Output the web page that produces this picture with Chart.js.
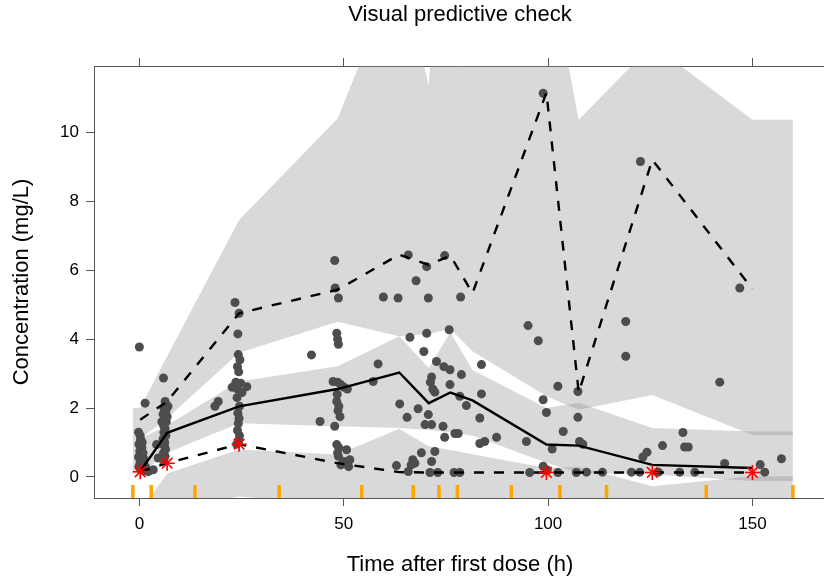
<!DOCTYPE html>
<html>
<head>
<meta charset="utf-8">
<script src="https://cdn.jsdelivr.net/npm/chart.js@4.4.1/dist/chart.umd.min.js"></script>
<style>
  html, body { margin: 0; padding: 0; background: #fff; overflow: hidden; }
  #wrap { width: 860px; height: 582px; }
</style>
</head>
<body>
<div id="wrap"><canvas id="vpc" width="860" height="582"></canvas></div>
<script>
// Observed concentrations
const obsTime = [
  0.0, 1.4, -0.2, 0.3, -0.1, 0.6, 0.1, 0.4, -0.2, 0.5, 0.2, 0.8, -0.1, 0.6, 0.3, 1.2, 2.2, 3.4, 1.0, 0.9, 1.5, 0.2, 0.7,
  5.9, 6.3, 7.0, 6.0, 6.5, 5.8, 6.2, 6.6, 5.9, 6.3, 6.0, 6.5, 5.8, 6.2, 6.1, 6.4, 5.9, 6.3, 6.0, 4.2, 4.6, 6.8, 5.5,
  18.5, 19.3, 23.4, 24.4, 24.1, 24.2, 24.6, 24.0, 24.3, 23.6, 24.8, 22.7, 26.3, 24.0, 25.1, 23.9, 24.5, 24.1, 24.4, 24.2, 24.0, 24.5, 24.3, 23.8,
  42.1, 44.2,
  47.8, 47.9, 48.7, 48.3, 48.5, 48.7, 47.4, 48.5, 49.3, 50.1, 50.9, 48.3, 48.8, 48.6, 49.1, 47.8, 48.3, 48.8, 50.7, 48.5, 48.7, 51.5, 49.3, 51.2, 48.4, 50.0,
  57.2, 58.4, 59.7, 63.3, 65.8, 67.7, 70.3, 70.7, 74.7, 78.6, 66.2, 70.3, 69.6, 72.7, 75.8, 71.5, 71.2, 72.3, 71.8, 76.0, 74.5, 78.8, 78.4, 76.0, 80.0,
  83.7, 83.7, 83.3, 63.7, 68.2, 65.5, 70.7, 69.9, 71.5, 74.3, 77.2, 78.0, 74.7, 62.9, 69.0, 66.9, 67.4, 66.5, 71.5, 72.3, 65.8, 71.1, 78.4, 77.0, 73.0,
  84.5, 83.3, 87.4,
  94.7, 95.1, 97.6, 98.8, 99.6, 102.4, 103.7, 101.0, 107.3, 107.3, 107.7, 108.5, 95.5, 98.8, 99.8, 102.4, 106.9, 109.4, 98.8,
  119.0, 119.0, 122.6, 142.0, 146.9, 133.0, 133.4, 134.3, 128.0, 124.2, 123.2, 143.2, 151.9, 157.1, 153.0, 122.4, 120.4, 135.9, 132.2, 113.3, 127.0
];
const obsConc = [
  3.77, 2.14, 1.3, 1.1, 0.95, 0.85, 0.75, 0.65, 0.58, 0.5, 0.42, 0.36, 0.3, 0.27, 0.22, 0.18, 0.16, 0.21, 0.55, 0.7, 0.3, 1.2, 1.0,
  2.87, 2.19, 2.05, 2.0, 1.92, 1.82, 1.7, 1.6, 1.5, 1.4, 1.3, 1.2, 1.1, 1.0, 0.9, 0.8, 0.7, 0.6, 0.5, 0.94, 0.55, 1.75, 1.6,
  2.05, 2.19, 5.06, 4.75, 4.15, 3.55, 3.4, 3.2, 3.05, 2.75, 2.72, 2.6, 2.62, 2.55, 2.45, 2.3, 2.05, 1.85, 1.7, 1.55, 1.35, 1.2, 1.05, 0.95,
  3.54, 1.61,
  6.28, 5.48, 5.19, 4.17, 4.0, 3.85, 2.77, 2.75, 2.68, 2.6, 2.55, 2.19, 2.05, 1.92, 1.75, 1.47, 0.94, 0.85, 0.79, 0.7, 0.6, 0.5, 0.35, 0.3, 2.4, 0.45,
  2.77, 3.28, 5.22, 5.19, 6.44, 5.69, 6.1, 5.19, 6.42, 5.22, 4.05, 4.17, 3.64, 3.35, 4.27, 2.9, 2.75, 2.46, 2.55, 3.11, 3.2, 2.97, 2.34, 2.68, 2.07,
  3.26, 2.41, 1.71, 2.12, 1.98, 1.73, 1.81, 1.52, 1.52, 1.47, 1.26, 1.26, 1.15, 0.33, 0.7, 0.5, 0.4, 0.35, 0.45, 0.74, 0.16, 0.13, 0.13, 0.13, 0.13,
  1.03, 0.97, 1.15,
  1.03, 4.39, 3.95, 2.24, 1.87, 2.63, 1.32, 0.81, 2.48, 1.73, 1.03, 0.95, 0.13, 0.31, 0.2, 0.13, 0.13, 0.14, 11.13,
  4.51, 3.5, 9.15, 2.75, 5.48, 1.29, 0.87, 0.87, 0.91, 0.72, 0.58, 0.39, 0.36, 0.53, 0.14, 0.14, 0.14, 0.14, 0.14, 0.14, 0.14
];

// Observed percentiles per bin
const binMid = [0.2, 6.8, 24.4, 48.5, 63.6, 70.8, 76.1, 81.5, 99.6, 107.5, 125.5, 150];
const obsMedian = [0.16, 1.28, 2.05, 2.55, 3.03, 2.14, 2.45, 2.22, 0.94, 0.91, 0.35, 0.26];
const obsP95 = [1.66, 2.19, 4.75, 5.43, 6.45, 6.15, 6.42, 5.33, 11.15, 2.45, 9.2, 5.45];
const obsP05 = [0.15, 0.4, 0.95, 0.4, 0.14, 0.13, 0.13, 0.13, 0.13, 0.13, 0.13, 0.13];

// Percentiles outside the prediction interval
const outTime = [0.2, 6.8, 24.4, 99.6, 125.5, 150];
const outConc = [0.15, 0.4, 0.95, 0.13, 0.13, 0.13];

// Bin boundaries
const binEdges = [-1.6, 2.9, 13.6, 34.2, 54.4, 67.0, 73.3, 77.8, 91.0, 102.9, 114.3, 138.7, 159.9];

// Simulated prediction intervals
const bandTime = [-1.6, 0.2, 6.8, 24.4, 48.5, 63.6, 70.8, 76.1, 81.5, 99.6, 107.5, 125.5, 150, 159.9];
const p95Hi = [2.0, 2.0, 3.5, 7.45, 10.4, 14.8, 11.37, 20, 20, 15.3, 10.36, 12.54, 10.36, 10.36];
const p95Lo = [1.1, 1.1, 1.7, 3.6, 4.5, 4.08, 4.15, 4.3, 3.65, 2.34, 1.95, 2.38, 1.22, 1.22];
const p50Hi = [1.1, 1.1, 1.5, 2.77, 3.21, 4.08, 3.16, 4.2, 3.1, 2.0, 2.15, 1.42, 1.32, 1.32];
const p50Lo = [0.1, 0.1, 0.7, 1.56, 1.47, 1.42, 1.36, 1.3, 1.2, 0.41, 0.12, 0.07, -0.12, -0.12];
const p05Hi = [-1.0, -1.0, 0.1, 0.8, 0.65, 1.4, 0.89, 0.78, 0.66, 0.26, 0.3, -0.27, 0.02, 0.02];
const p05Lo = [-1.2, -1.2, -0.9, -0.57, -0.8, -1.0, -1.0, -1.0, -1.0, -1.0, -1.0, -1.0, -1.0, -1.0];

const xTicks = [0, 50, 100, 150];
const yTicks = [0, 2, 4, 6, 8, 10];

const toPts = (xs, ys) => xs.map((x, i) => ({ x: x, y: ys[i] }));
const bandFill = "rgba(140,140,140,0.33)";
const FONT = "'Liberation Sans', Arial, sans-serif";

function band(label, hi, lo) {
  return [
    { type: "line", label: label + " hi", data: toPts(bandTime, hi), borderWidth: 0, pointRadius: 0,
      backgroundColor: bandFill, fill: "+1", tension: 0, order: 10 },
    { type: "line", label: label + " lo", data: toPts(bandTime, lo), borderWidth: 0, pointRadius: 0,
      fill: false, tension: 0, order: 10 }
  ];
}

// rug of bin edges + titles
const decor = {
  id: "decor",
  afterDatasetsDraw(chart) {
    const ctx = chart.ctx, xs = chart.scales.x, area = chart.chartArea;
    ctx.save();
    ctx.strokeStyle = "#ffa500";
    ctx.lineWidth = 3.5;
    binEdges.forEach(b => {
      const px = xs.getPixelForValue(b);
      ctx.beginPath();
      ctx.moveTo(px, area.bottom - 13);
      ctx.lineTo(px, area.bottom);
      ctx.stroke();
    });
    ctx.restore();
  },
  afterDraw(chart) {
    const ctx = chart.ctx, area = chart.chartArea;
    const cx = (area.left + area.right) / 2;
    ctx.save();
    ctx.fillStyle = "#000";
    ctx.textAlign = "center";
    ctx.textBaseline = "middle";
    ctx.font = "22px " + FONT;
    ctx.fillText("Visual predictive check", cx, 15);
    ctx.fillText("Time after first dose (h)", cx, 565);
    ctx.translate(22, (area.top + area.bottom) / 2);
    ctx.rotate(-Math.PI / 2);
    ctx.fillText("Concentration (mg/L)", 0, 0);
    ctx.restore();
  }
};

const axisGrid = { drawOnChartArea: false, drawTicks: true, tickLength: 8, color: "#555", lineWidth: 1 };
const axisBorder = { display: true, color: "#555", width: 1 };
const tickFont = { family: FONT, size: 17 };

new Chart(document.getElementById("vpc"), {
  type: "scatter",
  data: {
    datasets: [
      ...band("PI 95th", p95Hi, p95Lo),
      ...band("PI median", p50Hi, p50Lo),
      ...band("PI 5th", p05Hi, p05Lo),
      { label: "Observed", data: toPts(obsTime, obsConc), pointRadius: 4.5, pointBackgroundColor: "#4d4d4d",
        pointBorderWidth: 0, order: 5 },
      { type: "line", label: "Obs median", data: toPts(binMid, obsMedian), borderColor: "#000", borderWidth: 2.4,
        pointRadius: 0, fill: false, tension: 0, order: 2 },
      { type: "line", label: "Obs 95th", data: toPts(binMid, obsP95), borderColor: "#000", borderWidth: 2.4,
        borderDash: [10, 10], pointRadius: 0, fill: false, tension: 0, order: 2 },
      { type: "line", label: "Obs 5th", data: toPts(binMid, obsP05), borderColor: "#000", borderWidth: 2.4,
        borderDash: [10, 10], pointRadius: 0, fill: false, tension: 0, order: 2 },
      { label: "Outside PI", data: toPts(outTime, outConc), pointStyle: "star", pointRadius: 7.5,
        pointBorderColor: "#ff0000", pointBorderWidth: 1.6, order: 1 }
    ]
  },
  options: {
    responsive: false,
    animation: false,
    layout: { padding: { top: 0, left: 0, right: 34, bottom: 0 } },
    plugins: { legend: { display: false }, tooltip: { enabled: false }, title: { display: false } },
    scales: {
      x: {
        type: "linear", position: "bottom", min: -11.1, max: 168,
        afterBuildTicks: s => { s.ticks = xTicks.map(v => ({ value: v })); },
        afterFit: s => { s.height = 84; },
        grid: axisGrid, border: axisBorder,
        ticks: { color: "#000", font: tickFont, padding: 8, maxRotation: 0 }
      },
      xTop: {
        type: "linear", position: "top", min: -11.1, max: 168,
        afterBuildTicks: s => { s.ticks = xTicks.map(v => ({ value: v })); },
        afterFit: s => { s.height = 66; },
        grid: axisGrid, border: axisBorder,
        ticks: { display: false }
      },
      y: {
        type: "linear", position: "left", min: -0.61, max: 11.92,
        afterBuildTicks: s => { s.ticks = yTicks.map(v => ({ value: v })); },
        afterFit: s => { s.width = 94; },
        grid: axisGrid, border: axisBorder,
        ticks: { color: "#000", font: tickFont, padding: 7 }
      }
    }
  },
  plugins: [decor]
});
</script>
</body>
</html>
